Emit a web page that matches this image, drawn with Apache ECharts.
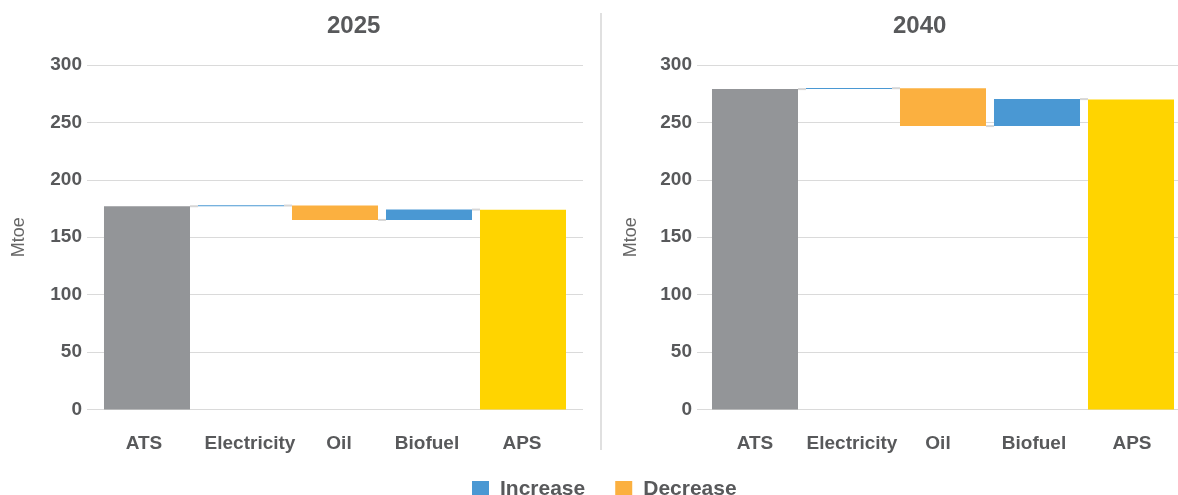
<!DOCTYPE html>
<html>
<head>
<meta charset="utf-8">
<style>
  html, body { margin: 0; padding: 0; background: #ffffff; }
  #chart { width: 1178px; height: 495px; }
</style>
<script src="https://cdn.jsdelivr.net/npm/echarts@6/dist/echarts.min.js"></script>
</head>
<body>
<div id="chart"></div>
<script>
// Categories of the waterfall (first and last are totals, middle are changes)
const categories = ['ATS', 'Electricity', 'Oil', 'Biofuel', 'APS'];
const years = ['2025', '2040'];
// Mtoe: ATS total, changes by driver, APS total
const values2025 = [177, 0.6, -12.5, 9, 174];
const values2040 = [279, 0.8, -33, 23.5, 270];
const yTicks = [0, 50, 100, 150, 200, 250, 300];

const COLORS = {
  total: ['#939598', '#ffd400'],
  increase: '#4a98d3',
  decrease: '#fbb040',
  grid: '#dadada',
  connector: '#d6d6d6',
  text: '#58595b'
};
const FONT = "'Liberation Sans', Arial, sans-serif";
const BAR_RATIO = 0.915;

// Split a waterfall into stacked pieces
function waterfall(vals) {
  const n = vals.length;
  const base = [], inc = [], dec = [], tot = [], levels = [];
  let run = 0;
  vals.forEach((v, i) => {
    if (i === 0 || i === n - 1) {
      base.push(0); inc.push('-'); dec.push('-');
      tot.push({ value: v, itemStyle: { color: COLORS.total[i === 0 ? 0 : 1] } });
      run = v;
    } else if (v >= 0) {
      base.push(run); inc.push(v); dec.push('-'); tot.push('-');
      run += v;
    } else {
      base.push(run + v); inc.push('-'); dec.push(-v); tot.push('-');
      run += v;
    }
    if (i < n - 1) levels.push([i, run]);
  });
  return { base, inc, dec, tot, levels };
}

// Panel layout; labelShift nudges category labels sideways (px)
const panels = [
  { year: years[0], vals: values2025, lineLeft: 87, lineWidth: 496, barLeft: 100, titleLeft: 322, nameGap: 59,
    labelShift: [-3, 9, 4, -2, -1] },
  { year: years[1], vals: values2040, lineLeft: 697, lineWidth: 481, barLeft: 708, titleLeft: 888, nameGap: 57,
    labelShift: [0, 3, -5, -3, 1] }
];

function shiftedLabels(shift) {
  return categories.map((c, i) => {
    const d = shift[i] || 0;
    return {
      value: c,
      textStyle: { padding: d >= 0 ? [0, 0, 0, 2 * d] : [0, -2 * d, 0, 0] }
    };
  });
}

const grids = [], xAxes = [], yAxes = [], series = [], titles = [];
const TOP = 65, HEIGHT = 344.5;

panels.forEach((p, k) => {
  const gLine = grids.length;
  grids.push({ left: p.lineLeft, top: TOP, width: p.lineWidth, height: HEIGHT });
  const gBar = grids.length;
  grids.push({ left: p.barLeft, top: TOP, width: 470, height: HEIGHT });

  titles.push({
    text: p.year, left: p.titleLeft, top: 9,
    textStyle: { fontFamily: FONT, fontSize: 24, fontWeight: 'bold', color: COLORS.text }
  });

  // gridline axes
  xAxes.push({ gridIndex: gLine, type: 'value', show: false, min: 0, max: 1 });
  yAxes.push({
    gridIndex: gLine, type: 'value', min: yTicks[0], max: yTicks[yTicks.length - 1], interval: 50,
    name: 'Mtoe', nameLocation: 'middle', nameGap: p.nameGap, nameRotate: 90,
    nameTextStyle: { fontFamily: FONT, fontSize: 18, color: '#666666' },
    axisLine: { show: false }, axisTick: { show: false },
    axisLabel: { margin: 5, fontFamily: FONT, fontSize: 19, fontWeight: 'bold', color: COLORS.text,
                 verticalAlign: 'middle', padding: [3, 0, 0, 0] },
    splitLine: { show: true, lineStyle: { color: COLORS.grid, width: 1 } }
  });

  // bar axes
  const xi = xAxes.length;
  xAxes.push({
    gridIndex: gBar, type: 'category', data: shiftedLabels(p.labelShift),
    axisLine: { show: false }, axisTick: { show: false },
    axisLabel: { margin: 25, fontFamily: FONT, fontSize: 19, fontWeight: 'bold', color: COLORS.text, interval: 0 }
  });
  const yi = yAxes.length;
  yAxes.push({
    gridIndex: gBar, type: 'value', min: yTicks[0], max: yTicks[yTicks.length - 1], interval: 50,
    show: false, splitLine: { show: false }
  });

  const w = waterfall(p.vals);
  const stack = 'wf' + k;
  series.push({
    name: 'base' + k, type: 'bar', stack, xAxisIndex: xi, yAxisIndex: yi,
    barWidth: (BAR_RATIO * 100) + '%', itemStyle: { color: 'transparent' },
    silent: true, data: w.base
  });
  series.push({
    name: 'Increase', type: 'bar', stack, xAxisIndex: xi, yAxisIndex: yi,
    barMinHeight: 1, itemStyle: { color: COLORS.increase }, data: w.inc
  });
  series.push({
    name: 'Decrease', type: 'bar', stack, xAxisIndex: xi, yAxisIndex: yi,
    itemStyle: { color: COLORS.decrease }, data: w.dec
  });
  series.push({
    name: 'Total' + k, type: 'bar', stack, xAxisIndex: xi, yAxisIndex: yi,
    data: w.tot
  });
  // connector segments between neighbouring bars at the running total
  series.push({
    name: 'conn' + k, type: 'custom', xAxisIndex: xi, yAxisIndex: yi, silent: true, z: 3,
    data: w.levels,
    renderItem(params, api) {
      const i = api.value(0), lvl = api.value(1);
      const a = api.coord([i, lvl]);
      const b = api.coord([i + 1, lvl]);
      const bw = api.size([1, 0])[0] * BAR_RATIO;
      return {
        type: 'line',
        shape: { x1: a[0] + bw / 2, y1: a[1], x2: b[0] - bw / 2, y2: b[1] },
        style: { stroke: COLORS.connector, lineWidth: 2 }
      };
    }
  });
});

const chart = echarts.init(document.getElementById('chart'), null, { renderer: 'canvas' });
chart.setOption({
  animation: false,
  backgroundColor: '#ffffff',
  title: titles,
  grid: grids,
  xAxis: xAxes,
  yAxis: yAxes,
  legend: {
    data: ['Increase', 'Decrease'],
    left: 467, top: 474,
    icon: 'rect', itemWidth: 17, itemHeight: 17, itemGap: 30,
    textStyle: { fontFamily: FONT, fontSize: 21, fontWeight: 'bold', color: COLORS.text, padding: [0, 0, 0, 6] }
  },
  graphic: [{
    type: 'line', shape: { x1: 601, y1: 13, x2: 601, y2: 450 },
    style: { stroke: '#e0e0e0', lineWidth: 2 }, silent: true
  }],
  series
});
</script>
</body>
</html>
